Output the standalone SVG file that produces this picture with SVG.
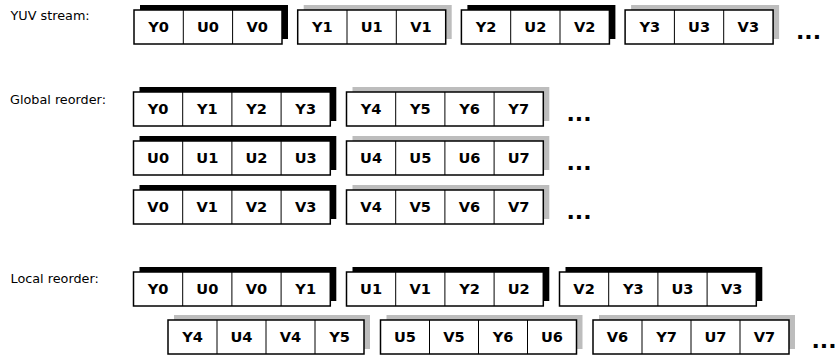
<svg xmlns="http://www.w3.org/2000/svg" width="838" height="356" viewBox="0 0 838 356">
<style>
.bg{fill:#ffffff}
.lbl{font-family:"DejaVu Sans","Liberation Sans",sans-serif;font-size:12.8px;fill:#000}
.c{font-family:"DejaVu Sans","Liberation Sans",sans-serif;font-size:14.6px;font-weight:bold;fill:#000;text-anchor:middle}
.dots{font-family:"DejaVu Sans","Liberation Sans",sans-serif;font-size:22px;font-weight:bold;fill:#000}
.box{fill:#fff;stroke:#000;stroke-width:1.5}
.dv{stroke:#000;stroke-width:1}
.sk{fill:#000}
.sg{fill:#bdbdbd}
</style>
<rect class="bg" x="0" y="0" width="838" height="356"/>

<g id="labels">
<text class="lbl" x="10.5" y="20">YUV stream:</text>
<text class="lbl" x="10" y="104">Global reorder:</text>
<text class="lbl" x="10.5" y="283">Local reorder:</text>
</g>

<!-- YUV stream row -->
<g id="s1">
<rect class="sk" x="140" y="5" width="148" height="34"/>
<rect class="box" x="134" y="10" width="148" height="34"/>
<path class="dv" d="M183.3 10V44M232.6 10V44"/>
<text class="c" x="158.65" y="32.3">Y0</text><text class="c" x="207.95" y="32.3">U0</text><text class="c" x="257.25" y="32.3">V0</text>
</g>
<g id="s2">
<rect class="sg" x="303.7" y="5" width="148" height="34"/>
<rect class="box" x="297.7" y="10" width="148" height="34"/>
<path class="dv" d="M347 10V44M396.3 10V44"/>
<text class="c" x="322.35" y="32.3">Y1</text><text class="c" x="371.65" y="32.3">U1</text><text class="c" x="420.95" y="32.3">V1</text>
</g>
<g id="s3">
<rect class="sk" x="467.4" y="5" width="148" height="34"/>
<rect class="box" x="461.4" y="10" width="148" height="34"/>
<path class="dv" d="M510.7 10V44M560 10V44"/>
<text class="c" x="486.05" y="32.3">Y2</text><text class="c" x="535.35" y="32.3">U2</text><text class="c" x="584.65" y="32.3">V2</text>
</g>
<g id="s4">
<rect class="sg" x="631.1" y="5" width="148" height="34"/>
<rect class="box" x="625.1" y="10" width="148" height="34"/>
<path class="dv" d="M674.4 10V44M723.7 10V44"/>
<text class="c" x="649.75" y="32.3">Y3</text><text class="c" x="699.05" y="32.3">U3</text><text class="c" x="748.35" y="32.3">V3</text>
</g>
<text class="dots" x="796" y="38.5">...</text>

<!-- Global reorder -->
<g id="gy1">
<rect class="sk" x="139.5" y="87" width="196.8" height="34"/>
<rect class="box" x="133.5" y="92" width="196.8" height="34"/>
<path class="dv" d="M182.7 92V126M231.9 92V126M281.1 92V126"/>
<text class="c" x="158.1" y="114.3">Y0</text><text class="c" x="207.3" y="114.3">Y1</text><text class="c" x="256.5" y="114.3">Y2</text><text class="c" x="305.7" y="114.3">Y3</text>
</g>
<g id="gy2">
<rect class="sg" x="352.5" y="87" width="196.8" height="34"/>
<rect class="box" x="346.5" y="92" width="196.8" height="34"/>
<path class="dv" d="M395.7 92V126M444.9 92V126M494.1 92V126"/>
<text class="c" x="371.1" y="114.3">Y4</text><text class="c" x="420.3" y="114.3">Y5</text><text class="c" x="469.5" y="114.3">Y6</text><text class="c" x="518.7" y="114.3">Y7</text>
</g>
<text class="dots" x="566.5" y="121">...</text>

<g id="gu1">
<rect class="sk" x="139.5" y="136" width="196.8" height="34"/>
<rect class="box" x="133.5" y="141" width="196.8" height="34"/>
<path class="dv" d="M182.7 141V175M231.9 141V175M281.1 141V175"/>
<text class="c" x="158.1" y="163.3">U0</text><text class="c" x="207.3" y="163.3">U1</text><text class="c" x="256.5" y="163.3">U2</text><text class="c" x="305.7" y="163.3">U3</text>
</g>
<g id="gu2">
<rect class="sg" x="352.5" y="136" width="196.8" height="34"/>
<rect class="box" x="346.5" y="141" width="196.8" height="34"/>
<path class="dv" d="M395.7 141V175M444.9 141V175M494.1 141V175"/>
<text class="c" x="371.1" y="163.3">U4</text><text class="c" x="420.3" y="163.3">U5</text><text class="c" x="469.5" y="163.3">U6</text><text class="c" x="518.7" y="163.3">U7</text>
</g>
<text class="dots" x="566.5" y="170">...</text>

<g id="gv1">
<rect class="sk" x="139.5" y="185" width="196.8" height="34"/>
<rect class="box" x="133.5" y="190" width="196.8" height="34"/>
<path class="dv" d="M182.7 190V224M231.9 190V224M281.1 190V224"/>
<text class="c" x="158.1" y="212.3">V0</text><text class="c" x="207.3" y="212.3">V1</text><text class="c" x="256.5" y="212.3">V2</text><text class="c" x="305.7" y="212.3">V3</text>
</g>
<g id="gv2">
<rect class="sg" x="352.5" y="185" width="196.8" height="34"/>
<rect class="box" x="346.5" y="190" width="196.8" height="34"/>
<path class="dv" d="M395.7 190V224M444.9 190V224M494.1 190V224"/>
<text class="c" x="371.1" y="212.3">V4</text><text class="c" x="420.3" y="212.3">V5</text><text class="c" x="469.5" y="212.3">V6</text><text class="c" x="518.7" y="212.3">V7</text>
</g>
<text class="dots" x="566.5" y="219">...</text>

<!-- Local reorder -->
<g id="la1">
<rect class="sk" x="139.5" y="267" width="196.8" height="34"/>
<rect class="box" x="133.5" y="272" width="196.8" height="34"/>
<path class="dv" d="M182.7 272V306M231.9 272V306M281.1 272V306"/>
<text class="c" x="158.1" y="294.3">Y0</text><text class="c" x="207.3" y="294.3">U0</text><text class="c" x="256.5" y="294.3">V0</text><text class="c" x="305.7" y="294.3">Y1</text>
</g>
<g id="la2">
<rect class="sk" x="352.5" y="267" width="196.8" height="34"/>
<rect class="box" x="346.5" y="272" width="196.8" height="34"/>
<path class="dv" d="M395.7 272V306M444.9 272V306M494.1 272V306"/>
<text class="c" x="371.1" y="294.3">U1</text><text class="c" x="420.3" y="294.3">V1</text><text class="c" x="469.5" y="294.3">Y2</text><text class="c" x="518.7" y="294.3">U2</text>
</g>
<g id="la3">
<rect class="sk" x="565.5" y="267" width="196.8" height="34"/>
<rect class="box" x="559.5" y="272" width="196.8" height="34"/>
<path class="dv" d="M608.7 272V306M657.9 272V306M707.1 272V306"/>
<text class="c" x="584.1" y="294.3">V2</text><text class="c" x="633.3" y="294.3">Y3</text><text class="c" x="682.5" y="294.3">U3</text><text class="c" x="731.7" y="294.3">V3</text>
</g>

<g id="lb1">
<rect class="sg" x="174" y="315" width="196" height="34"/>
<rect class="box" x="168" y="320" width="196" height="34"/>
<path class="dv" d="M217 320V354M266 320V354M315 320V354"/>
<text class="c" x="192.5" y="342.3">Y4</text><text class="c" x="241.5" y="342.3">U4</text><text class="c" x="290.5" y="342.3">V4</text><text class="c" x="339.5" y="342.3">Y5</text>
</g>
<g id="lb2">
<rect class="sg" x="386.5" y="315" width="196" height="34"/>
<rect class="box" x="380.5" y="320" width="196" height="34"/>
<path class="dv" d="M429.5 320V354M478.5 320V354M527.5 320V354"/>
<text class="c" x="405" y="342.3">U5</text><text class="c" x="454" y="342.3">V5</text><text class="c" x="503" y="342.3">Y6</text><text class="c" x="552" y="342.3">U6</text>
</g>
<g id="lb3">
<rect class="sg" x="599" y="315" width="196" height="34"/>
<rect class="box" x="593" y="320" width="196" height="34"/>
<path class="dv" d="M642 320V354M691 320V354M740 320V354"/>
<text class="c" x="617.5" y="342.3">V6</text><text class="c" x="666.5" y="342.3">Y7</text><text class="c" x="715.5" y="342.3">U7</text><text class="c" x="764.5" y="342.3">V7</text>
</g>
<text class="dots" x="811.5" y="347.5">...</text>

<g id="connectors"></g>
</svg>
